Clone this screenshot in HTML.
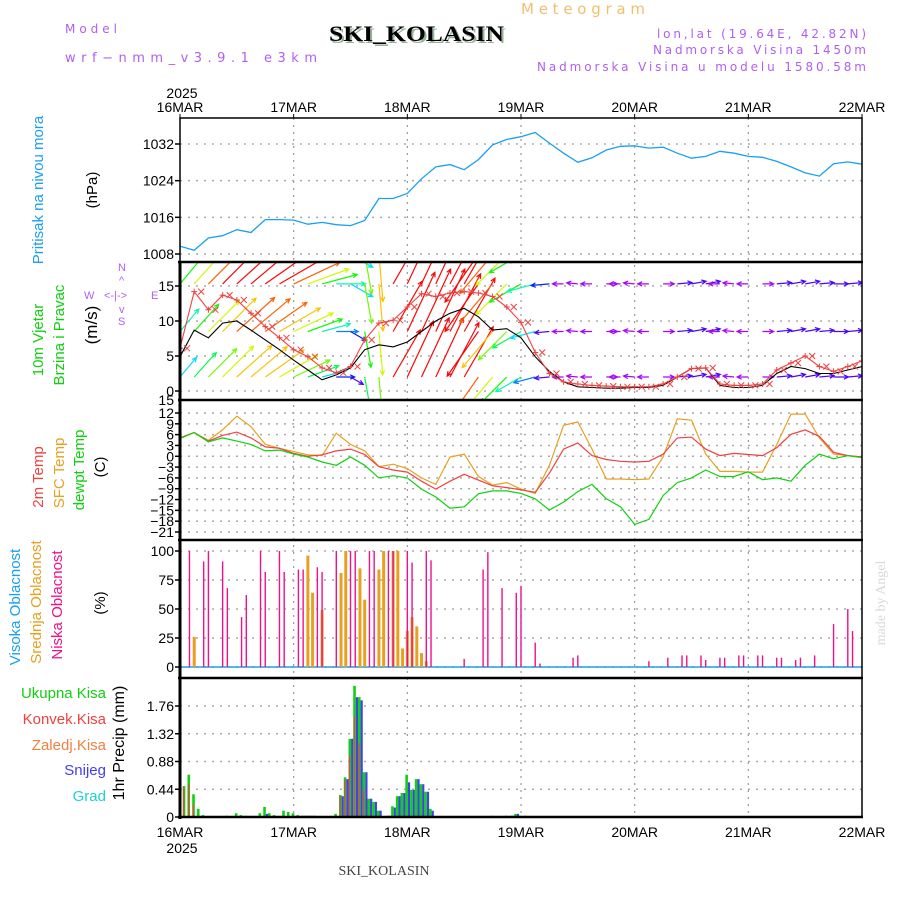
<!DOCTYPE html>
<html><head><meta charset="utf-8"><title>Meteogram SKI_KOLASIN</title>
<style>
html,body{margin:0;padding:0;background:#fff;}
svg{display:block;font-family:"Liberation Sans",sans-serif;}
.tick{font-size:14px;fill:#000;}
.hdr{font-family:"DejaVu Sans",sans-serif;font-weight:normal;}
</style></head>
<body>
<svg id="chart" width="900" height="900" viewBox="0 0 900 900" xmlns="http://www.w3.org/2000/svg">
<rect x="0" y="0" width="900" height="900" fill="#fff"/>
<text class="hdr" x="65" y="33" font-size="12" fill="#b060f0" textLength="52" lengthAdjust="spacing">Model</text>
<text class="hdr" x="65" y="62" font-size="13" fill="#b060f0" textLength="252" lengthAdjust="spacing">wrf−nmm_v3.9.1 e3km</text>
<text x="331" y="43" font-family="Liberation Serif, serif" font-weight="bold" font-size="22" fill="#9ab09a" textLength="175" lengthAdjust="spacingAndGlyphs">SKI_KOLASIN</text>
<text x="329" y="41" font-family="Liberation Serif, serif" font-weight="bold" font-size="22" fill="#000" textLength="175" lengthAdjust="spacingAndGlyphs">SKI_KOLASIN</text>
<text class="hdr" x="521" y="14" font-size="15" fill="#f0c070" textLength="124" lengthAdjust="spacing">Meteogram</text>
<text class="hdr" x="866" y="38" font-size="12" fill="#b060f0" text-anchor="end" textLength="209" lengthAdjust="spacing">lon,lat (19.64E, 42.82N)</text>
<text class="hdr" x="866" y="54" font-size="12" fill="#b060f0" text-anchor="end" textLength="213" lengthAdjust="spacing">Nadmorska Visina 1450m</text>
<text class="hdr" x="866" y="71" font-size="12" fill="#b060f0" text-anchor="end" textLength="329" lengthAdjust="spacing">Nadmorska Visina u modelu 1580.58m</text>
<g id="plots"></g>
<text x="384" y="875" font-family="Liberation Serif, serif" font-size="14" fill="#444" text-anchor="middle">SKI_KOLASIN</text>
<text transform="translate(885,603) rotate(-90)" font-family="Liberation Serif, serif" font-size="14" fill="#d8d8d8" text-anchor="middle">made by Angel</text>
</svg>
<script>
// ---------- data (3-hourly, hours since 16MAR 00) ----------
const hours3 = [0,3,6,9,12,15,18,21,24,27,30,33,36,39,42,45,48,51,54,57,60,63,66,69,72,75,78,81,84,87,90,93,96,99,102,105,108,111,114,117,120,123,126,129,132,135,138,141,144];
const dayLabels = ["16MAR","17MAR","18MAR","19MAR","20MAR","21MAR","22MAR"];
const pressure = [1009.7,1008.8,1011.5,1012,1013.3,1012.7,1015.5,1015.5,1015.4,1014.5,1014.9,1014.4,1014.2,1015.3,1020.1,1020.1,1021.2,1024.4,1027,1027.5,1026.4,1028.6,1031.8,1033,1033.6,1034.5,1032.2,1030,1028,1029,1030.7,1031.5,1031.6,1031.1,1031.3,1030,1028.9,1029.3,1030.4,1030,1029.3,1029.1,1028.2,1027,1025.7,1025,1027.7,1028.1,1027.6];
const pressTicks = [1008,1016,1024,1032];
const windSpeed = [4.9,8.7,7.6,9.7,10,8.7,7.3,5.9,4.4,3,1.6,2.3,3.3,5.9,6.6,6.3,7,8.5,10,11.1,11.8,10.6,8.7,8.9,7.6,4.9,2.8,1.3,0.6,0.5,0.4,0.4,0.5,0.5,0.8,2,3.2,3.3,0.8,0.5,0.5,0.8,2.5,3.5,3.2,2.5,2.5,3,3.5];
const windGust = [6.1,14.2,11.6,13.7,13,11.1,9.2,7.6,5.9,4.9,3.3,2.6,3.5,7.3,9.7,10.1,12,13.9,13.5,14,14.2,14,13.5,12,9.8,5.5,2.5,1.3,1,0.8,0.7,0.6,0.6,0.6,1,2,3.2,3.3,1,0.8,0.8,1,3,4,5,3.5,2.8,3.5,4.3];
const windDir = [40,42,45,45,48,50,55,60,65,70,75,90,120,170,175,30,25,25,25,28,30,215,220,225,240,255,265,270,275,270,90,270,275,270,90,85,80,80,270,275,270,90,85,80,80,85,90,85,85];
const rowLow = [6,8,10,11,12,12,12,11,10,8,6,4,3,8,10,14,16,17,17,16,15,13,11,9,7,5,3,2,2,2,2,2,2,2,2,3,3,3,2,2,2,2,3,3,3,3,3,3,3];
const rowMid = [7,9,11,12,13,13,13,12,11,9,7,5,4,9,11,15,17,18,18,17,16,14,12,10,8,6,3,2,2,2,2,2,2,2,2,3,3,3,2,2,2,2,3,3,3,3,3,3,3];
const rowTop = [9,11,13,14,15,15,15,14,13,11,9,7,6,10,12,17,19,20,20,19,18,15,13,11,9,7,4,2,2,2,2,2,2,2,2,3,3,3,2,2,2,2,3,3,3,3,3,3,3];
const windTicks = [0,5,10,15];
const temp2m = [5.1,6.6,4.2,5.8,6.7,5.1,2.6,2.2,0.8,0,0.4,1.5,2,0.5,-2.9,-3.8,-4.4,-6.9,-9.1,-6.9,-5,-6.6,-8.2,-8.7,-9.3,-10,-4.7,2,3.7,0.2,-0.9,-1.4,-1.6,-1.4,0.6,5.1,5.3,2,0.2,0.8,0.5,0.2,2.4,6.1,7.3,5.5,1.1,0.2,-0.2];
const tempSfc = [5.1,6.6,4.4,7.3,11.1,8.2,3.3,2.2,1.3,0.4,0.2,6.4,3.3,1.5,-2.9,-2.2,-3.4,-6,-7.8,-0.2,0.6,-5.6,-8,-7.3,-9.1,-10.3,-2.5,8.6,9.5,2,-6.3,-6.3,-6.5,-6.3,-0.2,10.4,10,0.6,-4.2,-4.2,-4.4,-4.4,3.3,11.7,11.7,5.1,0.6,0.2,-0.2];
const tempDew = [4.9,6.6,4,5.1,4.2,3.3,1.5,1.7,0.6,-0.2,-1.6,-2.5,-0.2,-2.5,-6,-5.4,-6,-9.1,-11.3,-14.4,-14,-10.4,-9.6,-9.6,-10.3,-11.8,-14.9,-12.7,-9.8,-7.8,-11.8,-14,-18.9,-17.5,-10.9,-7.3,-6,-3.8,-5.6,-5.6,-4.3,-6.5,-6,-6.9,-2.5,0.6,-0.7,0.2,-0.4];
const tempTicks = [12,9,6,3,0,-3,-6,-9,-12,-15,-18,-21];
const lowCloudHours = [2,5,6,9,10,13,14,17,18,21,22,25,26,29,30,33,36,37,40,41,44,45,48,49,52,53,60,64,65,68,71,72,75,76,83,84,99,103,106,107,110,111,114,115,118,119,122,123,126,127,130,131,134,138,141,142];
const lowCloud = [100,91,100,91,68,43,62,100,82,100,82,84,84,86,82,100,100,100,100,100,100,100,100,90,100,92,7,84,99,68,64,70,21,3,8,10,5,8,10,10,10,6,8,8,10,10,10,10,8,8,6,8,10,37,50,31];
const midCloudHours = [3,27,28,30,34,35,38,39,42,43,45,46,47,48,49,50,51,52];
const midCloud = [26,96,64,49,81,100,85,58,84,100,100,100,16,31,43,35,12,5];
const cloudTicks = [0,25,50,75,100];
const precipHours = [1,2,3,4,5,10,12,13,14,17,18,19,20,22,23,24,25,26,27,28,33,34,35,36,37,38,39,40,41,42,44,45,46,47,48,49,50,51,52,53,66,69,70,71,72,73];
const precipTotal = [0.49,0.67,0.36,0.13,0.03,0.02,0.06,0.03,0.02,0.06,0.16,0.06,0.03,0.1,0.08,0.06,0.03,0.02,0.02,0.02,0.05,0.35,0.63,1.24,2.08,1.9,0.71,0.29,0.24,0.1,0.02,0.17,0.33,0.38,0.67,0.43,0.6,0.52,0.4,0.13,0.02,0.02,0.02,0.05,0.02,0.02];
const precipConv = [0.48,0.53,0.19,0,0,0,0,0,0,0,0,0,0,0,0,0,0,0,0,0,0.02,0.33,0.59,0.98,1.6,1.17,0.44,0,0,0,0,0,0,0,0.02,0,0.02,0,0,0,0,0,0,0,0,0];
const precipSnow = [0,0,0,0,0,0,0,0,0,0,0.05,0,0,0,0,0,0,0.02,0.02,0.02,0,0.33,0.6,1.24,1.9,1.85,0.71,0.29,0.24,0.1,0.02,0.15,0.33,0.38,0.55,0.43,0.6,0.52,0.4,0.1,0,0,0.02,0.05,0,0];
const precipTicks = [0,0.44,0.88,1.32,1.76];

// ---------- layout ----------
const NS = "http://www.w3.org/2000/svg";
const root = document.getElementById("plots");
const X0 = 180, X1 = 862, HMAX = 144;
const xH = h => X0 + h / HMAX * (X1 - X0);
function lin(d0, d1, p0, p1){ return v => p0 + (v - d0) / (d1 - d0) * (p1 - p0); }
const yP = lin(1008, 1032, 254, 144);
const yW = lin(0, 15, 391, 286);
const yT = lin(12, -21, 413, 532);
const yC = lin(0, 100, 667, 551);
const yR = lin(0, 1.76, 817, 706);
const panels = [
  {name:"pressure-panel", top:118, bot:262},
  {name:"wind-panel", top:262, bot:400},
  {name:"temperature-panel", top:400, bot:540},
  {name:"cloud-panel", top:540, bot:678},
  {name:"precip-panel", top:678, bot:817}
];
function mk(tag, attrs, parent){
  const e = document.createElementNS(NS, tag);
  for (const k in attrs) e.setAttribute(k, attrs[k]);
  (parent || root).appendChild(e);
  return e;
}
function linePath(ys, yf){ return hours3.map((h,i)=>(i?"L":"M")+xH(h).toFixed(1)+","+yf(ys[i]).toFixed(1)).join(""); }

const defs = mk("defs", {});
panels.forEach((p,i)=>{
  const cp = mk("clipPath", {id:"clip"+i}, defs);
  mk("rect", {x:X0, y:p.top, width:X1-X0, height:p.bot-p.top}, cp);
});

const grid = mk("g", {});


dayLabels.forEach((d,i)=>{
  const x = xH(i*24);
  if (i>0 && i<6) {
    const l = mk("line", {x1:x, x2:x, y1:118, y2:817, stroke:"#999", "stroke-width":1.2, "stroke-dasharray":"2,5"}, grid);
    
    
  }
});
function hgrid(ticks, yf, name){
  const g = mk("g", {});
  
  
  ticks.forEach(t=>{
    const y = yf(t);
    const l = mk("line", {x1:X0, x2:X1, y1:y, y2:y, stroke:"#aaa", "stroke-width":1.5, "stroke-dasharray":"2,6"}, g);
    
    
    mk("line", {x1:X0-5, x2:X0, y1:y, y2:y, stroke:"#000", "stroke-width":1.5}, g);
    const lab = mk("text", {x:X0-6, y:y+5, "text-anchor":"end", class:"tick"}, g);
    lab.textContent = (t < 0 ? "−" + (-t) : String(t));
    
    
  });
}
hgrid(pressTicks, yP, "pressure-y-axis");
hgrid(windTicks, yW, "wind-y-axis");
hgrid(tempTicks, yT, "temperature-y-axis");
hgrid(cloudTicks, yC, "cloud-y-axis");
hgrid(precipTicks, yR, "precip-y-axis");
const t15 = mk("text", {x:X0-6, y:405, "text-anchor":"end", class:"tick"});
t15.textContent = "15";



const pl = mk("path", {d:linePath(pressure, yP), fill:"none", stroke:"#1aa0f0", "stroke-width":1.3, "clip-path":"url(#clip0)"});



function speedColor(s){ const hue = Math.min(280, Math.max(0, 280 - (s-2)/12*280)); return "hsl("+hue.toFixed(0)+",95%,50%)"; }
const wg = mk("g", {"clip-path":"url(#clip1)"});


const rows = [{base:2, sp:rowLow},{base:8.5, sp:rowMid},{base:15.3, sp:rowTop},{base:19.5, sp:rowTop}];
rows.forEach(r=>{
  hours3.forEach((h,i)=>{
    const s = r.sp[i], a = windDir[i]*Math.PI/180, L = s*3.6 + 4;
    const x0 = xH(h), y0 = yW(r.base);
    const x1 = x0 + Math.sin(a)*L, y1 = y0 - Math.cos(a)*L;
    const c = speedColor(s);
    const ar = mk("path", {d:"M"+x0.toFixed(1)+","+y0.toFixed(1)+"L"+x1.toFixed(1)+","+y1.toFixed(1)+
      "M"+(x1 - Math.sin(a-0.45)*5).toFixed(1)+","+(y1 + Math.cos(a-0.45)*5).toFixed(1)+"L"+x1.toFixed(1)+","+y1.toFixed(1)+
      "L"+(x1 - Math.sin(a+0.45)*5).toFixed(1)+","+(y1 + Math.cos(a+0.45)*5).toFixed(1),
      fill:"none", stroke:c, "stroke-width":1.2}, wg);
    
    
  });
});
const wl = mk("path", {d:linePath(windSpeed, yW), fill:"none", stroke:"#000", "stroke-width":1.1, "clip-path":"url(#clip1)"});


const gl = mk("path", {d:linePath(windGust, yW), fill:"none", stroke:"#f04040", "stroke-width":1.1, "clip-path":"url(#clip1)"});


hours3.forEach((h,i)=>{
  const x = xH(h), y = yW(windGust[i]);
  const m = mk("path", {d:`M${x-3},${y}H${x+3}M${x},${y-3}V${y+3}M${x+4},${y-3}l6,6M${x+10},${y-3}l-6,6`, stroke:"#f04040", "stroke-width":1, fill:"none", "clip-path":"url(#clip1)"});
  
  
});

[[tempSfc,"#e8a020","sfc-temp-line"],[temp2m,"#f04040","2m-temp-line"],[tempDew,"#10d010","dewpoint-line"]].forEach(([d,c,n])=>{
  const p = mk("path", {d:linePath(d, yT), fill:"none", stroke:c, "stroke-width":1.2, "clip-path":"url(#clip2)"});
  
  
});

const hc = mk("line", {x1:X0, x2:X1, y1:yC(0), y2:yC(0), stroke:"#1aa0f0", "stroke-width":1.5});


midCloudHours.forEach((h,i)=>{
  const y = yC(midCloud[i]);
  const r = mk("rect", {x:xH(h)-1.5, y:y, width:3, height:yC(0)-y, fill:"#e8a020"});
  
  
});
lowCloudHours.forEach((h,i)=>{
  const y = yC(lowCloud[i]);
  const r = mk("rect", {x:xH(h)-0.7, y:y, width:1.4, height:yC(0)-y, fill:"#f0108a"});
  
  
});

precipHours.forEach((h,i)=>{
  const x = xH(h);
  if (precipTotal[i] > 0) {
    const y = yR(precipTotal[i]);
    const r = mk("rect", {x:x-2, y:y, width:2.6, height:yR(0)-y, fill:"#10d010"});
    
    
  }
  if (precipSnow[i] > 0) {
    const y = yR(precipSnow[i]);
    const r = mk("rect", {x:x+0.6, y:y, width:2.2, height:yR(0)-y, fill:"#4040f0"});
    
    
  }
  if (precipConv[i] > 0) {
    const y = yR(precipConv[i]);
    const r = mk("rect", {x:x-1.6, y:y, width:1.2, height:yR(0)-y, fill:"#f04040"});
    
    
  }
});

panels.forEach(p=>{
  const r = mk("rect", {x:X0, y:p.top, width:X1-X0, height:p.bot-p.top, fill:"none", stroke:"#000", "stroke-width":1.5});
  
  
});
[262,400,540,678,817].forEach(y=>{
  mk("line", {x1:X0-2, x2:X1+1, y1:y, y2:y, stroke:"#000", "stroke-width":2.6});
});
mk("line", {x1:X0, x2:X0, y1:262, y2:819, stroke:"#000", "stroke-width":3});

dayLabels.forEach((d,i)=>{
  const x = xH(i*24);
  const t = mk("text", {x:x, y:112, "text-anchor":"middle", class:"tick", "font-size":"15"});
  t.textContent = d;
  
  
  mk("line", {x1:x, x2:x, y1:114, y2:118, stroke:"#000"});
  const b = mk("text", {x:x, y:837, "text-anchor":"middle", class:"tick", "font-size":"15"});
  b.textContent = d;
  
  
});
const yr1 = mk("text", {x:182, y:98, "text-anchor":"middle", class:"tick", "font-size":"15"});
yr1.textContent = "2025";


const yr2 = mk("text", {x:182, y:853, "text-anchor":"middle", class:"tick", "font-size":"15"});
yr2.textContent = "2025";



function vlabel(txt, x, y, color, name, size){
  const t = mk("text", {transform:`translate(${x},${y}) rotate(-90)`, "text-anchor":"middle", fill:color, "font-size":size||15, "font-family":"Liberation Sans Narrow, Liberation Sans, sans-serif"});
  t.textContent = txt;
  
  
}
vlabel("Pritisak na nivou mora", 43, 190, "#1aa0f0", "pressure-title");
vlabel("(hPa)", 97, 190, "#000", "pressure-unit");
vlabel("10m Vjetar", 43, 340, "#10d010", "wind-title");
vlabel("Brzina i Pravac", 64, 335, "#10d010", "wind-subtitle");
vlabel("(m/s)", 97, 325, "#000", "wind-unit", 17);
vlabel("2m Temp", 43, 477, "#f04040", "temp2m-title");
vlabel("SFC Temp", 64, 473, "#e8a020", "sfc-temp-title");
vlabel("dewpt Temp", 84, 470, "#10d010", "dewpoint-title");
vlabel("(C)", 105, 467, "#000", "temp-unit");
vlabel("Visoka Oblacnost", 20, 607, "#1aa0f0", "high-cloud-title");
vlabel("Srednja Oblacnost", 41, 602, "#e8a020", "mid-cloud-title");
vlabel("Niska Oblacnost", 62, 605, "#f0108a", "low-cloud-title");
vlabel("(%)", 105, 603, "#000", "cloud-unit");
vlabel("1hr Precip (mm)", 124, 743, "#000", "precip-title", 16);
[["W",84,299],["<-|->",104,299],["E",151,299],["N",118,271],["S",118,325],["^",119,284],["v",119,313]].forEach(([s,x,y])=>{
  const t = mk("text", {x:x, y:y, "font-size":11, fill:"#b060f0"});
  t.textContent = s;
  
  
});
[["Ukupna Kisa","#10d010",698],["Konvek.Kisa","#f04040",724],["Zaledj.Kisa","#f08040",750],["Snijeg","#4040f0",775],["Grad","#20d0d0",801]].forEach(([s,c,y])=>{
  const t = mk("text", {x:106, y:y, "text-anchor":"end", "font-size":15, fill:c});
  t.textContent = s;
  
  
});
</script>
</body></html>
